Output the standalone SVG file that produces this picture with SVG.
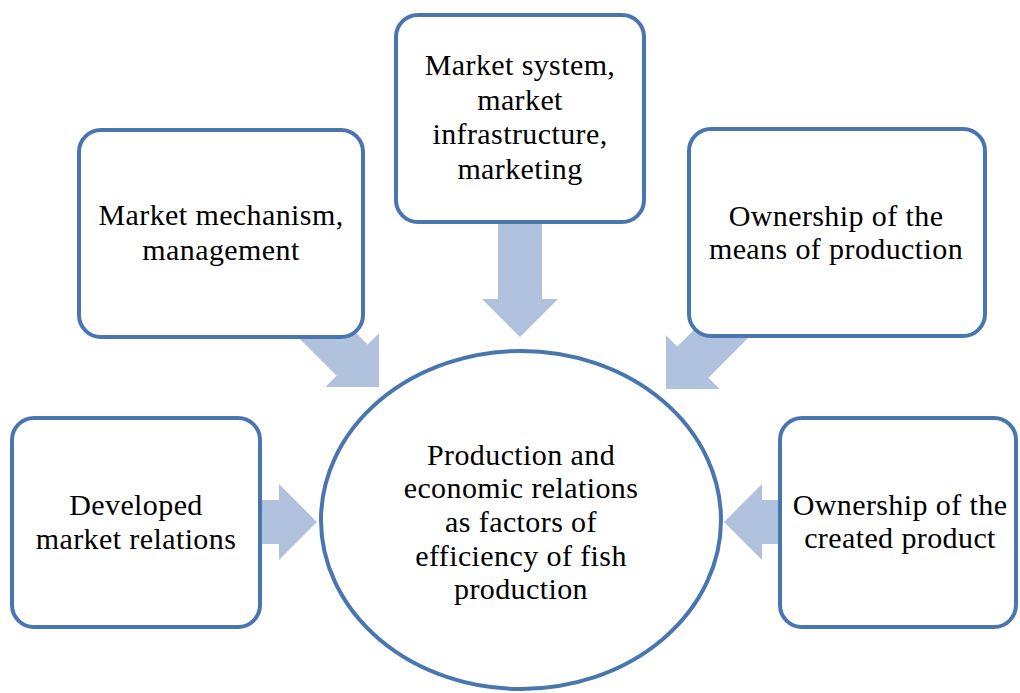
<svg xmlns="http://www.w3.org/2000/svg" width="1020" height="693" viewBox="0 0 1020 693">
<style>
.box{fill:#ffffff;stroke:#4a76b0;stroke-width:4}
.arr{fill:#b0c2dd}
text{font-family:"Liberation Serif","Times New Roman",serif;font-size:30px;fill:#000;text-anchor:middle;letter-spacing:0.4px}
</style>
<defs>
<polygon id="arrow" points="0,0 -38,-38 -38,-22 -120,-22 -120,22 -38,22 -38,38"/>
</defs>
<rect width="1020" height="693" fill="#ffffff"/>
<g id="connectors">
<use href="#arrow" class="arr" transform="translate(520,337) rotate(90)"/>
<use href="#arrow" class="arr" transform="translate(379,387) rotate(45)"/>
<use href="#arrow" class="arr" transform="translate(666,389) rotate(135)"/>
<use href="#arrow" class="arr" transform="translate(317,522)"/>
<use href="#arrow" class="arr" transform="translate(724,522) rotate(180)"/>
</g>
<g id="node-top">
<rect class="box" x="396" y="15" width="248" height="207" rx="22"/>
<text x="520" y="75">Market system,</text>
<text x="520" y="109.5">market</text>
<text x="520" y="144">infrastructure,</text>
<text x="520" y="178.5">marketing</text>
</g>
<g id="node-upper-left">
<rect class="box" x="79" y="130" width="284" height="207" rx="22"/>
<text x="221" y="225">Market mechanism,</text>
<text x="221" y="260">management</text>
</g>
<g id="node-upper-right">
<rect class="box" x="689" y="129" width="296" height="207" rx="22"/>
<text x="836" y="226">Ownership of the</text>
<text x="836" y="259">means of production</text>
</g>
<g id="node-lower-left">
<rect class="box" x="12" y="418" width="248" height="209" rx="22"/>
<text x="136" y="515">Developed</text>
<text x="136" y="549">market relations</text>
</g>
<g id="node-lower-right">
<rect class="box" x="780" y="418" width="236" height="209" rx="22"/>
<text x="900" y="515">Ownership of the</text>
<text x="900" y="548">created product</text>
</g>
<g id="node-center">
<ellipse class="box" cx="521" cy="520" rx="200" ry="169" stroke-width="3.5"/>
<text x="521" y="465">Production and</text>
<text x="521" y="498">economic relations</text>
<text x="521" y="532">as factors of</text>
<text x="521" y="566">efficiency of fish</text>
<text x="521" y="599">production</text>
</g>
</svg>
